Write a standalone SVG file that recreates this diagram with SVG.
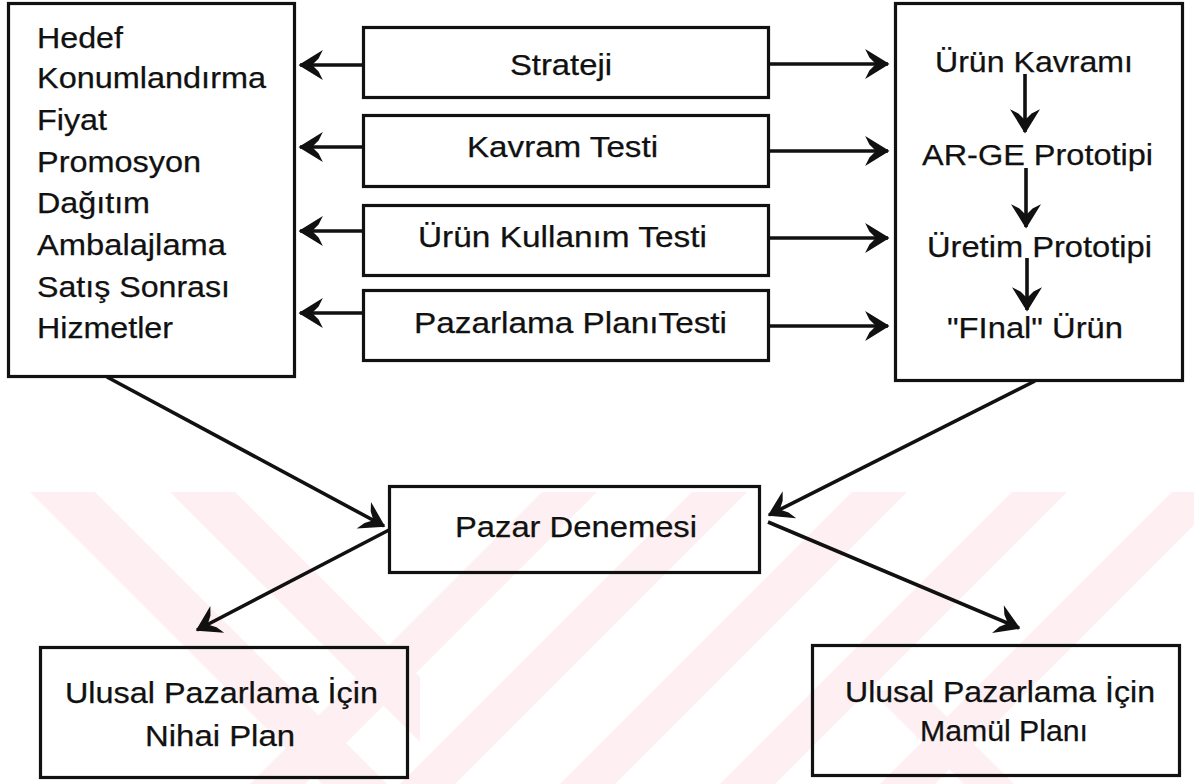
<svg xmlns="http://www.w3.org/2000/svg" width="1194" height="784" viewBox="0 0 1194 784">
<style>
  .box { fill: none; stroke: #111; stroke-width: 3.2; }
  .t { font-family: "Liberation Sans", Arial, Helvetica, sans-serif; font-size: 29px; fill: #111; stroke: #111; stroke-width: 0.25; }
  .c { stroke: #111; stroke-width: 3.6; fill: none; marker-end: url(#ah); }
  .wm { fill: #fdeff2; }
</style>
<defs>
  <marker id="ah" markerUnits="userSpaceOnUse" markerWidth="32" markerHeight="32" viewBox="-26 -16 30 32" refX="0" refY="0" orient="auto">
    <path d="M0,0 L-21,-13 L-18,-7 L-11,0 L-18,7 L-21,13 Z" fill="#111" stroke="#111" stroke-width="1.5" stroke-linejoin="miter"/>
  </marker>
  <clipPath id="wmclip"><rect x="30" y="492" width="1164" height="292"/></clipPath>
  <clipPath id="wmleft"><rect x="30" y="492" width="390" height="292"/></clipPath>
</defs>
<rect x="0" y="0" width="1194" height="784" fill="#ffffff"/>

<g id="watermark" clip-path="url(#wmclip)">
  <g clip-path="url(#wmleft)">
    <polygon class="wm" points="30,492 95,492 387,784 322,784"/>
    <polygon class="wm" points="170,492 235,492 527,784 462,784"/>
  </g>
  <polygon class="wm" points="250,784 305,784 597,492 542,492"/>
  <polygon class="wm" points="400,784 455,784 747,492 692,492"/>
  <polygon class="wm" points="560,784 615,784 907,492 852,492"/>
  <polygon class="wm" points="720,784 775,784 1067,492 1012,492"/>
  <polygon class="wm" points="880,784 935,784 1227,492 1172,492"/>
  <polygon class="wm" points="870,690 920,690 1014,784 964,784"/>
</g>

<g id="connectors">
  <line class="c" x1="363" y1="65" x2="300" y2="65"/>
  <line class="c" x1="363" y1="147" x2="300" y2="147"/>
  <line class="c" x1="363" y1="231" x2="300" y2="231"/>
  <line class="c" x1="363" y1="313" x2="300" y2="313"/>
  <line class="c" x1="769" y1="64" x2="888" y2="64"/>
  <line class="c" x1="769" y1="151" x2="888" y2="151"/>
  <line class="c" x1="769" y1="238" x2="888" y2="238"/>
  <line class="c" x1="769" y1="326" x2="888" y2="326"/>
  <line class="c" x1="1025" y1="74" x2="1025" y2="132"/>
  <line class="c" x1="1026" y1="168" x2="1026" y2="227"/>
  <line class="c" x1="1027" y1="258" x2="1027" y2="310"/>
  <line class="c" x1="107" y1="377" x2="384" y2="526"/>
  <line class="c" x1="1035" y1="381" x2="769" y2="515"/>
  <line class="c" x1="389" y1="530" x2="197" y2="630"/>
  <line class="c" x1="768" y1="522" x2="1019" y2="628"/>
</g>

<g id="node-left">
  <rect class="box" x="8.5" y="3.5" width="286" height="373"/>
  <text class="t" x="37" y="48" textLength="86" lengthAdjust="spacingAndGlyphs">Hedef</text>
  <text class="t" x="37" y="88" textLength="229" lengthAdjust="spacingAndGlyphs">Konumlandırma</text>
  <text class="t" x="37" y="130" textLength="70" lengthAdjust="spacingAndGlyphs">Fiyat</text>
  <text class="t" x="37" y="172" textLength="164" lengthAdjust="spacingAndGlyphs">Promosyon</text>
  <text class="t" x="37" y="213" textLength="113" lengthAdjust="spacingAndGlyphs">Dağıtım</text>
  <text class="t" x="37" y="255" textLength="189" lengthAdjust="spacingAndGlyphs">Ambalajlama</text>
  <text class="t" x="37" y="297" textLength="193" lengthAdjust="spacingAndGlyphs">Satış Sonrası</text>
  <text class="t" x="37" y="338" textLength="136" lengthAdjust="spacingAndGlyphs">Hizmetler</text>
</g>

<g id="node-strateji">
  <rect class="box" x="363.5" y="27.5" width="405" height="70"/>
  <text class="t" x="510" y="75" textLength="102" lengthAdjust="spacingAndGlyphs">Strateji</text>
</g>
<g id="node-kavram-testi">
  <rect class="box" x="363.5" y="115.5" width="405" height="71"/>
  <text class="t" x="467" y="157" textLength="191" lengthAdjust="spacingAndGlyphs">Kavram Testi</text>
</g>
<g id="node-urun-kullanim-testi">
  <rect class="box" x="363.5" y="205.5" width="405" height="70"/>
  <text class="t" x="418" y="247" textLength="289" lengthAdjust="spacingAndGlyphs">Ürün Kullanım Testi</text>
</g>
<g id="node-pazarlama-plani-testi">
  <rect class="box" x="363.5" y="290.5" width="405" height="70"/>
  <text class="t" x="414" y="333" textLength="313" lengthAdjust="spacingAndGlyphs">Pazarlama PlanıTesti</text>
</g>

<g id="node-right">
  <rect class="box" x="895.5" y="3.5" width="287" height="377"/>
  <text class="t" x="935" y="72" textLength="198" lengthAdjust="spacingAndGlyphs">Ürün Kavramı</text>
  <text class="t" x="922" y="165" textLength="231" lengthAdjust="spacingAndGlyphs">AR-GE Prototipi</text>
  <text class="t" x="927" y="257" textLength="225" lengthAdjust="spacingAndGlyphs">Üretim Prototipi</text>
  <text class="t" x="947" y="338" textLength="176" lengthAdjust="spacingAndGlyphs">"FInal" Ürün</text>
</g>

<g id="node-pazar-denemesi">
  <rect class="box" x="389.5" y="486.5" width="370" height="86"/>
  <text class="t" x="455" y="537" textLength="242" lengthAdjust="spacingAndGlyphs">Pazar Denemesi</text>
</g>

<g id="node-nihai-plan">
  <rect class="box" x="40.5" y="647.5" width="367" height="130"/>
  <text class="t" x="65" y="703" textLength="313" lengthAdjust="spacingAndGlyphs">Ulusal Pazarlama İçin</text>
  <text class="t" x="145" y="746" textLength="150" lengthAdjust="spacingAndGlyphs">Nihai Plan</text>
</g>

<g id="node-mamul-plani">
  <rect class="box" x="812.5" y="645.5" width="367" height="130"/>
  <text class="t" x="845" y="702" textLength="310" lengthAdjust="spacingAndGlyphs">Ulusal Pazarlama İçin</text>
  <text class="t" x="920" y="741" textLength="168" lengthAdjust="spacingAndGlyphs">Mamül Planı</text>
</g>
</svg>
